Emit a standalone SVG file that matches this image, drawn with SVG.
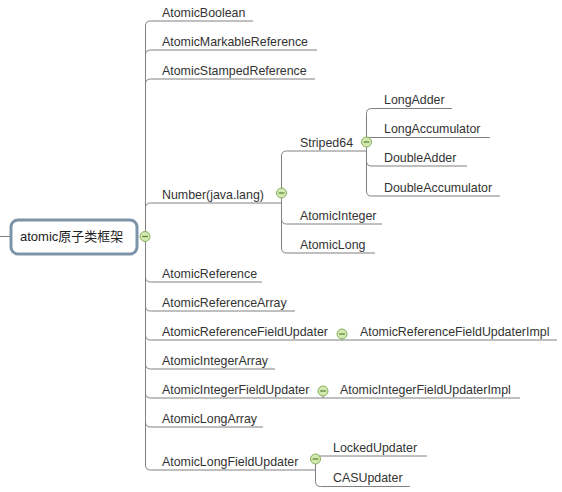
<svg xmlns="http://www.w3.org/2000/svg" width="562" height="492" viewBox="0 0 562 492">
<style>
text{font-family:"Liberation Sans","Noto Sans CJK SC",sans-serif;fill:#333;font-size:12.4px}
.root{font-size:13px;fill:#222}
.ln{fill:none;stroke:#808080;stroke-width:1}
.tg circle{fill:#d3e8b0;stroke:#86b05a;stroke-width:1}
.tg line{stroke:#557f30;stroke-width:1.2}
</style>
<defs>
<g id="tog" class="tg"><circle r="5"/><line x1="-2.8" y1="0" x2="2.8" y2="0"/></g>
</defs>
<rect width="562" height="492" fill="#fff"/>
<g id="connectors" class="ln">
<path d="M0 236.5H11"/>
<path d="M145.5 236V26Q145.5 21 150.5 21H253"/>
<path d="M145.5 236V55Q145.5 50 150.5 50H317"/>
<path d="M145.5 236V84Q145.5 79 150.5 79H315"/>
<path d="M145.5 236V208Q145.5 203 150.5 203H281.5"/>
<path d="M145.5 236V277Q145.5 282 150.5 282H262"/>
<path d="M145.5 236V306Q145.5 311 150.5 311H295"/>
<path d="M145.5 236V335Q145.5 340 150.5 340H342"/>
<path d="M145.5 236V364Q145.5 369 150.5 369H275"/>
<path d="M145.5 236V393Q145.5 398 150.5 398H323"/>
<path d="M145.5 236V422Q145.5 427 150.5 427H263"/>
<path d="M145.5 236V465Q145.5 470 150.5 470H316"/>
<path d="M281.5 193V156Q281.5 151 286.5 151H366.5"/>
<path d="M281.5 193V219Q281.5 224 286.5 224H382"/>
<path d="M281.5 193V248Q281.5 253 286.5 253H375"/>
<path d="M366.5 142V113.5Q366.5 108.5 371.5 108.5H452"/>
<path d="M366.5 142V137.5H490"/>
<path d="M366.5 142V161Q366.5 166 371.5 166H467"/>
<path d="M366.5 142V191Q366.5 196 371.5 196H500"/>
<path d="M342 334V340H557"/>
<path d="M323 391V398H520"/>
<path d="M315.5 459V460Q315.5 456 319.5 456H427"/>
<path d="M315.5 459V481.5Q315.5 486.5 320.5 486.5H410"/>
</g>
<g id="root">
<rect x="11" y="220" width="126" height="34" rx="7" fill="#fff" stroke="#7d93a8" stroke-width="3"/>
<text class="root" x="20" y="241">atomic原子类框架</text>
<use href="#tog" x="145" y="236.5"/>
</g>
<g id="n-AtomicBoolean"><text x="162" y="16.5">AtomicBoolean</text></g>
<g id="n-AtomicMarkableReference"><text x="162" y="45.5">AtomicMarkableReference</text></g>
<g id="n-AtomicStampedReference"><text x="162" y="74.5">AtomicStampedReference</text></g>
<g id="n-Number"><text x="162" y="198.5">Number(java.lang)</text><use href="#tog" x="281.5" y="193"/></g>
<g id="n-Striped64"><text x="300" y="146.5">Striped64</text><use href="#tog" x="366.5" y="142"/></g>
<g id="n-LongAdder"><text x="384" y="104">LongAdder</text></g>
<g id="n-LongAccumulator"><text x="384" y="133">LongAccumulator</text></g>
<g id="n-DoubleAdder"><text x="384" y="161.5">DoubleAdder</text></g>
<g id="n-DoubleAccumulator"><text x="384" y="191.5">DoubleAccumulator</text></g>
<g id="n-AtomicInteger"><text x="300" y="219.5">AtomicInteger</text></g>
<g id="n-AtomicLong"><text x="300" y="248.5">AtomicLong</text></g>
<g id="n-AtomicReference"><text x="162" y="277.5">AtomicReference</text></g>
<g id="n-AtomicReferenceArray"><text x="162" y="306.5">AtomicReferenceArray</text></g>
<g id="n-AtomicReferenceFieldUpdater"><text x="162" y="335.5">AtomicReferenceFieldUpdater</text><use href="#tog" x="342" y="334"/></g>
<g id="n-AtomicReferenceFieldUpdaterImpl"><text x="360" y="335.5">AtomicReferenceFieldUpdaterImpl</text></g>
<g id="n-AtomicIntegerArray"><text x="162" y="364.5">AtomicIntegerArray</text></g>
<g id="n-AtomicIntegerFieldUpdater"><text x="162" y="393.5">AtomicIntegerFieldUpdater</text><use href="#tog" x="323" y="391"/></g>
<g id="n-AtomicIntegerFieldUpdaterImpl"><text x="340" y="393.5">AtomicIntegerFieldUpdaterImpl</text></g>
<g id="n-AtomicLongArray"><text x="162" y="422.5">AtomicLongArray</text></g>
<g id="n-AtomicLongFieldUpdater"><text x="162" y="465.5">AtomicLongFieldUpdater</text><use href="#tog" x="315.5" y="459"/></g>
<g id="n-LockedUpdater"><text x="333" y="451.5">LockedUpdater</text></g>
<g id="n-CASUpdater"><text x="333" y="482">CASUpdater</text></g>
</svg>
